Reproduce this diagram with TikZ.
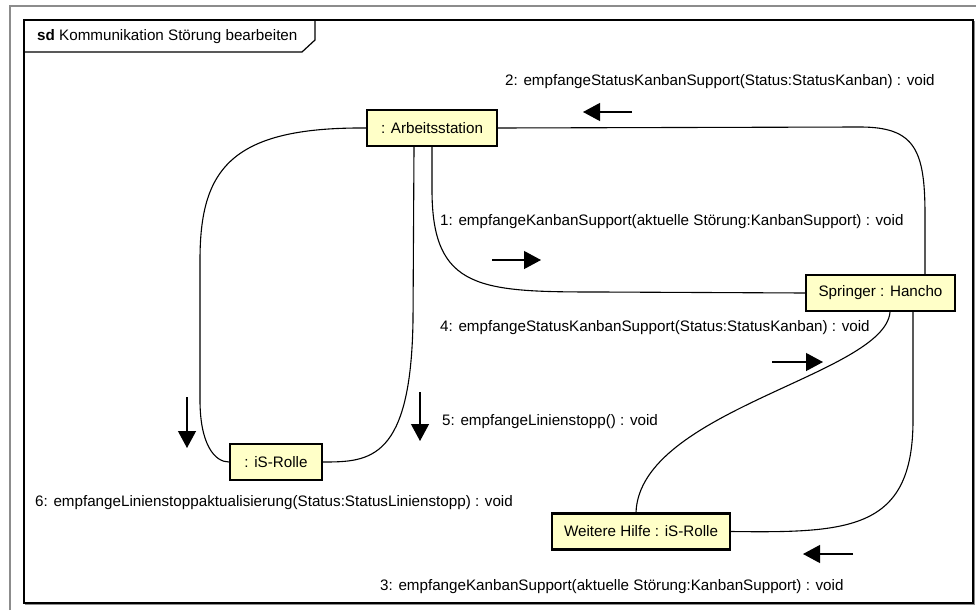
\documentclass[tikz,border=0pt]{standalone}
\usepackage{fontspec}
\setmainfont{Liberation Sans}
\usetikzlibrary{arrows.meta,shadows}
\definecolor{lifeline}{HTML}{FFFFC8}
\definecolor{framegray}{HTML}{8C8C8C}
\definecolor{edge}{HTML}{000000}

\begin{document}
\begin{tikzpicture}[x=1pt, y=-1pt,
  font=\fontsize{15.2pt}{18pt}\selectfont,
  obj/.style={fill=lifeline, draw=edge, line width=2.4pt, minimum height=36pt,
              inner sep=3pt, align=center,
              drop shadow={shadow xshift=1.2pt, shadow yshift=-1.2pt, fill=black, opacity=0.7}},
  link/.style={draw=edge, line width=1.1pt},
  msg/.style={-{Triangle[length=17pt, width=18pt]}, line width=1.2pt, edge},
  lbl/.style={anchor=west, inner sep=0pt}
]
  \useasboundingbox (0,0) rectangle (976,610);

  % frames
  \draw[framegray, line width=2pt] (10,610) -- (10,6) -- (976,6);
  \draw[framegray, line width=1.5pt] (25,604.5) -- (974.5,604.5) -- (974.5,21);
  \draw[edge, line width=1.2pt] (24,20) rectangle (973,603);
  \draw[edge, line width=1.2pt] (24,52) -- (302,52) -- (315,40) -- (315,20);
  \node[lbl] (title) at (37,37) {\textbf{sd} Kommunikation Störung bearbeiten};

  % objects
  \node[obj, minimum width=130pt] (arbeit) at (432,128) {: Arbeitsstation};
  \node[obj, minimum width=149pt] (springer) at (880.5,293) {Springer : Hancho};
  \node[obj, minimum width=92pt] (isrolle) at (276,462) {: iS-Rolle};
  \node[obj, minimum width=178pt] (hilfe) at (641,531.5) {Weitere Hilfe : iS-Rolle};

  % links
  \draw[link] (arbeit.east) -- (860,127) .. controls (915,127) and (925,150) .. (925,215) -- (springer.north -| 925,0);
  \draw[link] (arbeit.south -| 432,0) -- (432,190) .. controls (432,290) and (480,292) .. (600,292) -- (springer.west);
  \draw[link] (arbeit.west) .. controls (230,127) and (200,170) .. (200,260) -- (200,400) .. controls (200,445) and (215,462) .. (isrolle.west);
  \draw[link] (arbeit.south -| 414,0) -- (413,320) .. controls (411,460) and (370,462) .. (isrolle.east);
  \draw[link] (springer.south -| 890,0) .. controls (884,375) and (640,410) .. (hilfe.north -| 636,0);
  \draw[link] (springer.south -| 913,0) -- (913,420) .. controls (913,530) and (850,533) .. (hilfe.east);

  % message directions
  \coordinate (m2a) at (632,112);  \coordinate (m2b) at (583,112);
  \coordinate (m1a) at (492,260);  \coordinate (m1b) at (541,260);
  \coordinate (m4a) at (772,362);  \coordinate (m4b) at (823,362);
  \coordinate (m5a) at (420,392);  \coordinate (m5b) at (420,441);
  \coordinate (m6a) at (187,397);  \coordinate (m6b) at (187,448);
  \coordinate (m3a) at (853,554);  \coordinate (m3b) at (803,554);
  \draw[msg] (m2a) -- (m2b);
  \draw[msg] (m1a) -- (m1b);
  \draw[msg] (m4a) -- (m4b);
  \draw[msg] (m5a) -- (m5b);
  \draw[msg] (m6a) -- (m6b);
  \draw[msg] (m3a) -- (m3b);

  \node[lbl] (msg2) at (505,82) {2: empfangeStatusKanbanSupport(Status:StatusKanban) : void};
  \node[lbl] (msg1) at (440,222) {1: empfangeKanbanSupport(aktuelle Störung:KanbanSupport) : void};
  \node[lbl] (msg4) at (440,328) {4: empfangeStatusKanbanSupport(Status:StatusKanban) : void};
  \node[lbl] (msg5) at (442,422) {5: empfangeLinienstopp() : void};
  \node[lbl] (msg6) at (35,503) {6: empfangeLinienstoppaktualisierung(Status:StatusLinienstopp) : void};
  \node[lbl] (msg3) at (380,587) {3: empfangeKanbanSupport(aktuelle Störung:KanbanSupport) : void};

\end{tikzpicture}
\end{document}
